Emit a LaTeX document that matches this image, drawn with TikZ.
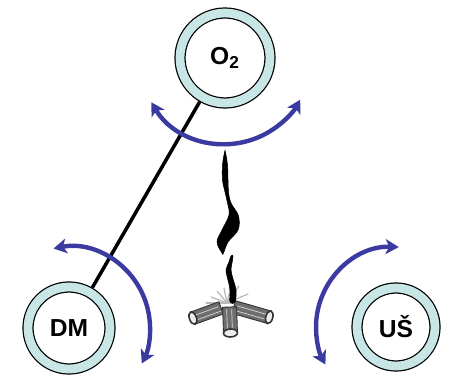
\documentclass[tikz,border=0pt]{standalone}
\usepackage{fontspec}
\setmainfont{Liberation Sans}
\usetikzlibrary{arrows.meta}
\definecolor{ringcyan}{HTML}{C8E6E6}
\definecolor{turnblue}{HTML}{3A3AA0}
\definecolor{barkgray}{HTML}{6E6E6E}

\begin{document}
\begin{tikzpicture}[
  x=0.02cm, y=-0.02cm,
  ring/.style={circle, draw=black, line width=0.7pt, double=ringcyan, double distance=5pt, fill=white, minimum size=1.64cm, inner sep=0pt, outer sep=3.2pt, font=\fontsize{14pt}{16pt}\selectfont\bfseries},
  turn/.style={draw=turnblue, line width=2.5pt, >={Stealth[length=7.5pt,width=8.5pt,inset=2pt]}, <->},
  link/.style={draw=black, line width=2pt},
  smoke/.style={fill=black, draw=black, line width=0.3pt},
  logbody/.style={fill=barkgray, draw=black!80, line width=0.5pt},
  logend/.style={fill=gray!15, draw=black!80, line width=0.9pt},
  spark/.style={draw=gray!55, line width=0.7pt, line cap=round},
]
  \useasboundingbox (0,0) rectangle (449,378);

  % the three rings
  \node[ring, minimum size=1.8cm] (o2) at (225,58) {O\textsubscript{2}};
  \node[ring] (dm) at (69,328) {DM};
  \node[ring, minimum size=1.56cm] (us) at (396,327) {UŠ};

  \draw[link] (o2) -- (dm);

  % turning arrows round the rings
  \draw[turn] ([shift={(211:1.72cm)}]o2.center) arc[start angle=211, end angle=331, radius=1.72cm];
  \draw[turn] ([shift={(101:1.62cm)}]dm.center) arc[start angle=101, end angle=-26, radius=1.62cm];
  \draw[turn] ([shift={(88:1.6cm)}]us.center) arc[start angle=88, end angle=208, radius=1.6cm];

  % campfire: sparks, logs, smoke
  \foreach \a/\b in {211/297, 206/303, 224/288, 239/286, 248/294, 217/291, 245/304, 231/286}
    \draw[spark] (227,303) -- (\a,\b);

  \begin{scope}[shift={(207,313)}, rotate=20]
    \draw[logbody] (-15,-6.5) rectangle (15,6.5);
    \draw[gray!30] (-13,-2) -- (13,-2) (-11,3) -- (14,3);
    \draw[logend] (-15,0) ellipse[x radius=0.07cm, y radius=0.13cm];
  \end{scope}
  \begin{scope}[shift={(251,312)}, rotate=-16]
    \draw[logbody] (-18,-6.5) rectangle (19,6.5);
    \draw[gray!30] (-15,-2) -- (17,-2) (-14,3) -- (16,3);
    \draw[logend] (19,0) ellipse[x radius=0.07cm, y radius=0.13cm];
  \end{scope}

  \fill[smoke] plot[smooth cycle, tension=0.6] coordinates {
    (224.6,152) (222.5,165) (222.5,180) (225,192) (227.5,203) (229,215)
    (222,230) (217,242) (222,253)
    (223.5,253) (228,242) (238,230) (238.5,216) (231,203) (228.5,192)
    (228,180) (227.5,165) (225.4,152)};
  \fill[smoke] plot[smooth cycle, tension=0.6] coordinates {
    (231,256) (229,262) (226,270) (228,280) (230,290) (230,302)
    (235,302) (236,290) (233,279) (231,270) (232,263) (233,256)};

  \begin{scope}[shift={(230,319)}, rotate=-88]
    \draw[logbody] (-12,-7) rectangle (14,7);
    \draw[gray!30] (-10,-2) -- (12,-2) (-10,3) -- (12,3);
    \draw[logend] (14,0) ellipse[x radius=0.08cm, y radius=0.14cm];
  \end{scope}
\end{tikzpicture}
\end{document}
